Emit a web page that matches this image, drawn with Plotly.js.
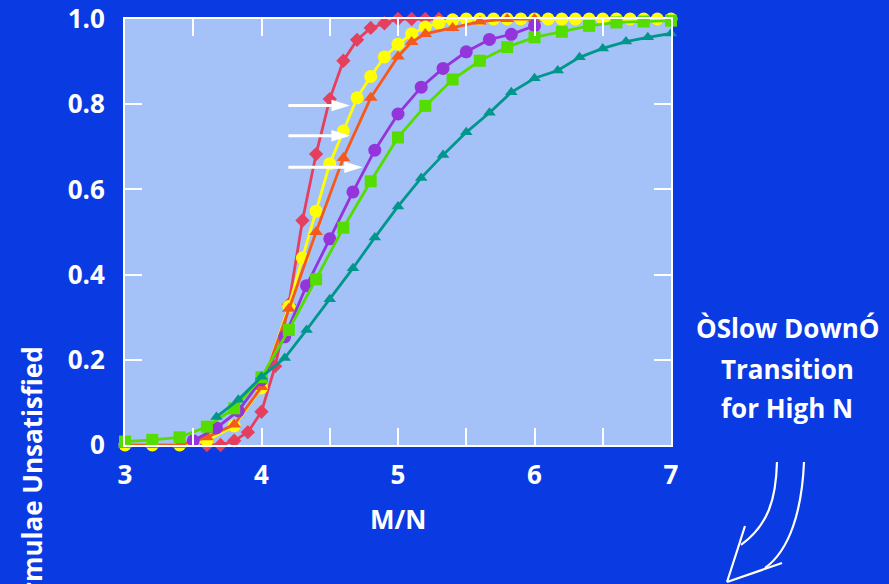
<!DOCTYPE html>
<html>
<head>
<meta charset="utf-8">
<script src="https://cdn.plot.ly/plotly-3.0.1.min.js"></script>
<style>html,body{margin:0;padding:0;background:#0a3ae2;}#chart{width:889px;height:584px;}</style>
</head>
<body>
<div id="chart"></div>
<script>
// ---- data ----
const redX = [3.6,3.7,3.8,3.9,4.0,4.1,4.2,4.3,4.4,4.5,4.6,4.7,4.8,4.9,5.0,5.1,5.2,5.3];
const redY = [0,0,0.01,0.03,0.078,0.185,0.33,0.527,0.683,0.812,0.902,0.951,0.979,0.99,1,1,1,1];

const yellowX = [3.0,3.2,3.4,3.6,3.8,4.0,4.2,4.3,4.4,4.5,4.6,4.7,4.8,4.9,5.0,5.1,5.2,5.3,5.4,5.5,5.6,5.7,5.8,5.9,6.0,6.1,6.2,6.3,6.4,6.5,6.6,6.7,6.8,6.9,7.0];
const yellowY = [0,0,0,0.01,0.045,0.134,0.325,0.439,0.549,0.66,0.737,0.815,0.865,0.911,0.941,0.965,0.981,0.991,0.998,1,1,1,1,1,1,1,1,1,1,1,1,1,1,1,1];

const orangeX = [3.0,3.2,3.4,3.6,3.8,4.0,4.2,4.4,4.6,4.8,5.0,5.1,5.2,5.4,5.6,5.8,6.0];
const orangeY = [0,0,0,0.018,0.048,0.136,0.32,0.5,0.674,0.815,0.912,0.946,0.965,0.979,0.994,1,1];

const purpleX = [3.5,3.67,3.83,4.0,4.17,4.33,4.5,4.67,4.83,5.0,5.17,5.33,5.5,5.67,5.83,6.0];
const purpleY = [0.01,0.04,0.08,0.153,0.254,0.374,0.484,0.594,0.692,0.777,0.84,0.884,0.923,0.952,0.964,0.984];

const greenX = [3.0,3.2,3.4,3.6,3.8,4.0,4.2,4.4,4.6,4.8,5.0,5.2,5.4,5.6,5.8,6.0,6.2,6.4,6.6,6.8,7.0];
const greenY = [0.008,0.012,0.018,0.043,0.086,0.159,0.27,0.389,0.51,0.619,0.722,0.796,0.858,0.902,0.934,0.957,0.97,0.984,0.992,0.994,0.996];

const tealX = [3.67,3.83,4.0,4.17,4.33,4.5,4.67,4.83,5.0,5.17,5.33,5.5,5.67,5.83,6.0,6.17,6.33,6.5,6.67,6.83,7.0];
const tealY = [0.066,0.106,0.16,0.204,0.27,0.342,0.415,0.487,0.56,0.627,0.681,0.734,0.78,0.828,0.861,0.879,0.91,0.931,0.947,0.957,0.966];

const xTickVals = [3,3.5,4,4.5,5,5.5,6,6.5,7];
const xTickText = ['3','','4','','5','','6','','7'];
const yTickVals = [0,0.2,0.4,0.6,0.8,1.0];
const yTickText = ['0','0.2','0.4','0.6','0.8','1.0'];

// horizontal white arrows inside the plot: [y, xStart, xTip]
const arrowY = [0.797,0.726,0.652];
const arrowStart = [4.197,4.197,4.197];
const arrowTip = [4.648,4.648,4.741];

const sideText = ['ÒSlow DownÓ','Transition','for High N'];

// ---- helpers (pixel layout -> paper) ----
const L = 125, T = 19, W = 546, H = 426;
const px = v => (v - L) / W;
const py = v => (T + H - v) / H;

function series(x, y, color, symbol, size) {
  return {x: x, y: y, type: 'scatter', mode: 'lines+markers', cliponaxis: false,
    line: {color: color, width: 2.8},
    marker: {color: color, symbol: symbol, size: size, line: {width: 0}},
    hoverinfo: 'skip'};
}

const data = [
  series(redX, redY, '#e4405e', 'diamond', 11),
  series(yellowX, yellowY, '#ffff00', 'circle', 13),
  series(orangeX, orangeY, '#f55a1c', 'triangle-up', 12),
  series(purpleX, purpleY, '#9435dc', 'circle', 13),
  series(greenX, greenY, '#55dc00', 'square', 12),
  series(tealX, tealY, '#00968c', 'triangle-up', 11)
];

const shapes = [];
const headLen = 0.135, headHalf = 0.0135;
for (let i = 0; i < arrowY.length; i++) {
  const base = arrowTip[i] - headLen;
  shapes.push({type: 'line', xref: 'x', yref: 'y', x0: arrowStart[i], x1: base + 0.01, y0: arrowY[i], y1: arrowY[i],
    line: {color: 'white', width: 3}, layer: 'above'});
  shapes.push({type: 'path', xref: 'x', yref: 'y', layer: 'above',
    path: `M ${base},${arrowY[i]-headHalf} L ${arrowTip[i]},${arrowY[i]} L ${base},${arrowY[i]+headHalf} Z`,
    fillcolor: 'white', line: {width: 0}});
}
// curved outline arrow (lower right), drawn in paper coords
function P(a, b) { return `${px(a).toFixed(4)},${py(b).toFixed(4)}`; }
const curvePaths = [
  `M ${P(777,462)} C ${P(776,500)} ${P(768,525)} ${P(741,545)}`,
  `M ${P(745,526)} L ${P(738,548)} L ${P(727,582)}`,
  `M ${P(804,462)} C ${P(802,510)} ${P(790,550)} ${P(765,568)}`,
  `M ${P(782,563)} L ${P(727,582)}`
];
curvePaths.forEach(p => shapes.push({type: 'path', xref: 'paper', yref: 'paper', path: p,
  line: {color: 'white', width: 2.2}, layer: 'above'}));

const fontBold = {family: 'Open Sans, sans-serif', size: 26, color: 'white', weight: 'bold'};

const annotations = [
  {text: 'M/N', xref: 'paper', yref: 'paper', x: px(398), y: py(519), xanchor: 'center', yanchor: 'middle',
   showarrow: false, font: fontBold},
  {text: 'Fraction of Formulae Unsatisfied', xref: 'paper', yref: 'paper', x: px(31), y: py(345),
   xanchor: 'center', yanchor: 'top', textangle: -90, showarrow: false, font: fontBold}
];
const sideY = [328, 369, 408];
sideText.forEach((t, i) => annotations.push({text: t, xref: 'paper', yref: 'paper', x: px(787), y: py(sideY[i]),
  xanchor: 'center', yanchor: 'middle', showarrow: false, font: fontBold}));

const axisCommon = {showgrid: false, zeroline: false, showline: true, linecolor: 'white', linewidth: 2,
  mirror: 'allticks', ticks: 'inside', ticklen: 17, tickwidth: 2, tickcolor: 'white',
  tickfont: {family: 'Open Sans, sans-serif', size: 26, color: 'white', weight: 'bold'}, fixedrange: true};

const layout = {
  width: 889, height: 584,
  paper_bgcolor: '#0a3ae2', plot_bgcolor: '#a4c2f8',
  margin: {l: L, r: 889 - L - W, t: T, b: 584 - T - H, pad: 0},
  showlegend: false,
  xaxis: Object.assign({}, axisCommon, {range: [3, 7], tickmode: 'array', tickvals: xTickVals, ticktext: xTickText, ticklabelstandoff: 6}),
  yaxis: Object.assign({}, axisCommon, {range: [0, 1], tickmode: 'array', tickvals: yTickVals, ticktext: yTickText, ticklabelstandoff: 13}),
  shapes: shapes,
  annotations: annotations
};

Plotly.newPlot('chart', data, layout, {staticPlot: true, displayModeBar: false});
</script>
</body>
</html>
